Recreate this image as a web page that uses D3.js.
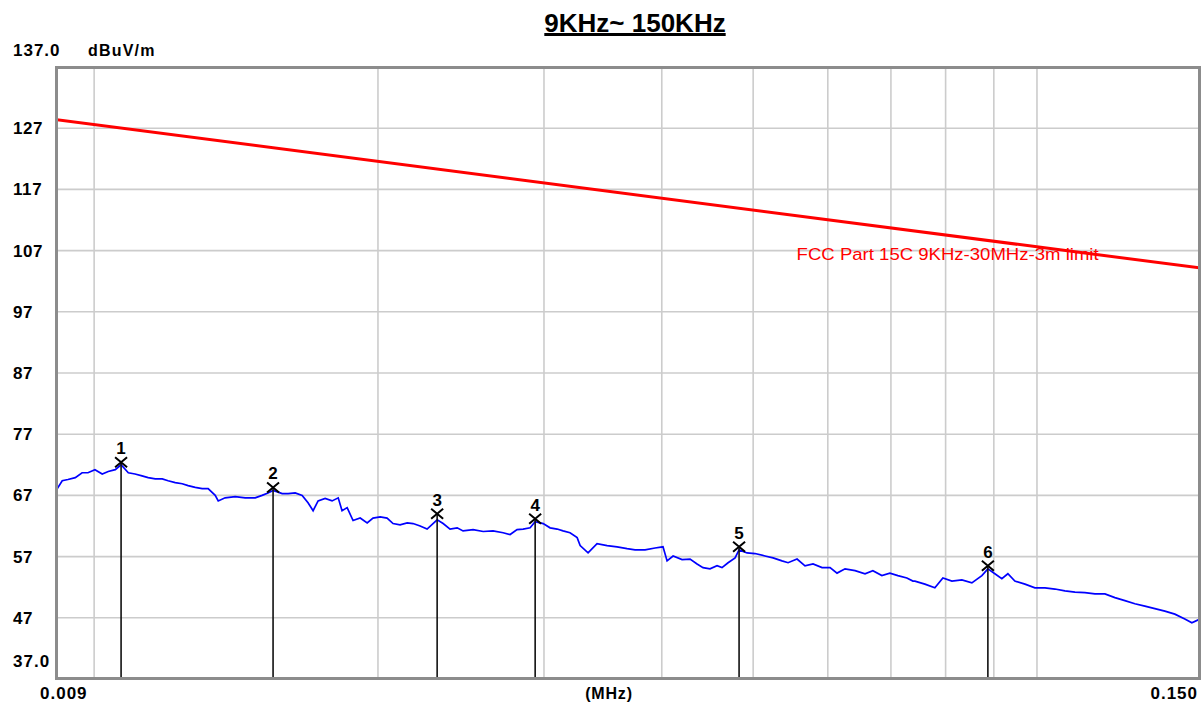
<!DOCTYPE html>
<html>
<head>
<meta charset="utf-8">
<script src="https://cdn.jsdelivr.net/npm/d3@7"></script>
<style>
  body { margin: 0; background: #fff; }
  svg { display: block; font-family: "Liberation Sans", Arial, sans-serif; }
</style>
</head>
<body>
<svg id="chart" width="1204" height="702"></svg>
<script>
// frequency in kHz, level in dBuV/m
const traceKHz = [9.14, 9.25, 9.38, 9.55, 9.71, 9.85, 10.02, 10.20, 10.35, 10.53, 10.68, 10.87, 11.05, 11.24, 11.41, 11.61, 11.81, 11.98, 12.19, 12.40,
  12.58, 12.80, 13.02, 13.21, 13.44, 13.54, 13.77, 14.11, 14.46, 14.82, 15.07, 15.29, 15.48, 15.83, 16.06, 16.34, 16.62, 16.86, 17.07, 17.28,
  17.58, 17.88, 18.15, 18.32, 18.55, 18.82, 19.15, 19.48, 19.76, 20.11, 20.45, 20.75, 21.11, 21.48, 21.79, 22.17, 22.55, 23.11, 23.45, 23.85,
  24.27, 24.62, 25.23, 25.86, 26.49, 27.15, 27.62, 28.09, 28.51, 29.00, 29.36, 29.94, 30.45, 30.98, 31.43, 31.97, 32.53, 32.77, 33.41, 34.15,
  35.00, 35.86, 36.75, 37.47, 38.40, 39.35, 40.12, 40.52, 41.12, 42.03, 42.86, 43.60, 44.24, 45.00, 45.78, 46.34, 47.03, 47.84, 48.31, 49.26,
  50.23, 51.47, 52.49, 53.65, 54.45, 55.66, 56.75, 57.87, 59.16, 60.33, 61.37, 62.58, 64.13, 65.71, 66.98, 68.47, 69.82, 71.20, 72.78, 73.86,
  74.22, 76.05, 77.93, 79.47, 81.24, 83.24, 85.30, 87.41, 88.70, 90.23, 91.78, 93.14, 94.74, 97.11, 99.51, 101.97, 104.49, 107.07, 109.72, 112.43,
  115.20, 118.05, 120.96, 123.95, 127.01, 130.15, 133.36, 136.66, 140.03, 143.49, 145.97, 148.88];
const traceLevel = [68.1, 69.4, 69.6, 69.9, 70.7, 70.7, 71.2, 70.5, 70.9, 71.2, 72.0, 70.7, 70.5, 70.2, 69.9, 69.7, 69.7, 69.4, 69.1, 68.9,
  68.6, 68.3, 68.1, 68.1, 67.0, 66.1, 66.6, 66.8, 66.6, 66.6, 67.0, 67.4, 67.8, 67.3, 67.3, 67.4, 67.0, 65.8, 64.5, 66.1,
  66.5, 66.1, 66.6, 64.5, 65.0, 62.9, 63.3, 62.5, 63.3, 63.5, 63.3, 62.4, 62.2, 62.5, 62.4, 62.0, 61.5, 63.0, 62.4, 61.5,
  61.7, 61.2, 61.4, 61.1, 61.2, 60.9, 60.6, 61.4, 61.5, 61.7, 62.7, 62.4, 61.7, 61.5, 61.2, 60.9, 60.1, 58.8, 57.6, 59.1,
  58.8, 58.6, 58.3, 58.1, 58.1, 58.4, 58.6, 56.3, 57.1, 56.5, 56.6, 55.8, 55.2, 55.0, 55.5, 55.2, 56.0, 56.8, 58.1, 57.6,
  57.5, 57.1, 56.8, 56.3, 56.0, 56.6, 55.5, 55.8, 55.2, 55.2, 54.3, 55.0, 54.7, 54.2, 54.7, 53.9, 54.3, 53.9, 53.5, 53.0,
  53.0, 52.5, 51.9, 53.5, 53.0, 53.2, 52.7, 53.9, 55.0, 54.2, 53.4, 54.2, 53.0, 52.5, 51.9, 51.9, 51.7, 51.4, 51.2, 51.1,
  50.9, 50.9, 50.3, 49.8, 49.3, 48.9, 48.5, 48.1, 47.6, 46.8, 46.2, 46.8];

const limitKHz = [9, 150];
const limitLevel = [128.5, 104.1];
const limitName = "FCC Part 15C 9KHz-30MHz-3m limit";

const markerIds = ["1", "2", "3", "4", "5", "6"];
const markerKHz = [10.68, 15.48, 23.11, 29.36, 48.31, 88.70];
const markerLevel = [72.4, 68.3, 64.0, 63.2, 58.6, 55.5];

const yGridValues = [127, 117, 107, 97, 87, 77, 67, 57, 47];
const yTickLabels = ["127", "117", "107", "97", "87", "77", "67", "57", "47"];
const xGridKHz = [10, 20, 30, 40, 50, 60, 70, 80, 90, 100];
const titleText = "9KHz~ 150KHz";

const svg = d3.select("#chart");
const frame = {left: 57, right: 1199, top: 68, bottom: 678};

const x = d3.scaleLog().domain([9, 150]).range([51, 1203]);
const y = d3.scaleLinear().domain([37, 137]).range([679, 67]);

svg.append("defs").append("clipPath").attr("id", "plotclip")
  .append("rect")
  .attr("x", frame.left).attr("y", frame.top)
  .attr("width", frame.right - frame.left).attr("height", frame.bottom - frame.top);

// grid
const grid = svg.append("g").attr("stroke", "#cccccc").attr("stroke-width", 1.6);
grid.selectAll("line.h").data(yGridValues).enter().append("line")
  .attr("x1", frame.left).attr("x2", frame.right)
  .attr("y1", d => y(d)).attr("y2", d => y(d));
grid.selectAll("line.v").data(xGridKHz).enter().append("line")
  .attr("x1", d => x(d)).attr("x2", d => x(d))
  .attr("y1", frame.top).attr("y2", frame.bottom);

const plot = svg.append("g").attr("clip-path", "url(#plotclip)");

// limit line
const limitData = limitKHz.map((f, i) => [f, limitLevel[i]]);
plot.append("path")
  .datum(limitData)
  .attr("fill", "none")
  .attr("stroke", "#ff0000")
  .attr("stroke-width", 3)
  .attr("d", d3.line().x(d => x(d[0])).y(d => y(d[1])));

// measured trace
const traceData = traceKHz.map((f, i) => [f, traceLevel[i]]);
plot.append("path")
  .datum(traceData)
  .attr("fill", "none")
  .attr("stroke", "#0000ff")
  .attr("stroke-width", 1.7)
  .attr("stroke-linejoin", "miter")
  .attr("d", d3.line().x(d => x(d[0])).y(d => y(d[1])));

// limit label
svg.append("text")
  .attr("x", x(55.6)).attr("y", y(105.5))
  .attr("fill", "#ff0000")
  .attr("font-size", 16)
  .attr("textLength", 302).attr("lengthAdjust", "spacingAndGlyphs")
  .text(limitName);

// markers
const markers = markerIds.map((id, i) => ({id, f: markerKHz[i], v: markerLevel[i]}));
const mg = svg.selectAll("g.marker").data(markers).enter().append("g")
  .attr("class", "marker")
  .attr("transform", d => `translate(${x(d.f)},${y(d.v)})`);
mg.append("line")
  .attr("x1", 0).attr("x2", 0)
  .attr("y1", 0).attr("y2", d => frame.bottom - y(d.v))
  .attr("stroke", "#111").attr("stroke-width", 1.6);
mg.append("path")
  .attr("d", "M-6,-5L6,5M-6,5L6,-5")
  .attr("stroke", "#000").attr("stroke-width", 2).attr("fill", "none");
mg.append("text")
  .attr("text-anchor", "middle")
  .attr("y", -8)
  .attr("font-size", 17).attr("font-weight", "bold")
  .text(d => d.id);

// frame
svg.append("rect")
  .attr("x", frame.left - 0.5).attr("y", frame.top - 0.5)
  .attr("width", frame.right - frame.left + 1).attr("height", frame.bottom - frame.top + 1)
  .attr("fill", "none").attr("stroke", "#8c8c8c").attr("stroke-width", 3);

// y tick labels
const yl = svg.append("g").attr("font-size", 17).attr("font-weight", "bold").attr("fill", "#000");
yl.selectAll("text").data(yGridValues).enter().append("text")
  .attr("x", 13).attr("y", d => y(d) + 6)
  .attr("letter-spacing", 0.6)
  .text((d, i) => yTickLabels[i]);
yl.append("text").attr("x", 13).attr("y", 56).attr("letter-spacing", 1).text("137.0");
yl.append("text").attr("x", 13).attr("y", 667).attr("letter-spacing", 1).text("37.0");
yl.append("text").attr("x", 88).attr("y", 56).attr("font-size", 16).attr("letter-spacing", 1.2).text("dBuV/m");

// x labels
const xl = svg.append("g").attr("font-size", 17).attr("font-weight", "bold").attr("fill", "#000");
xl.append("text").attr("x", 40).attr("y", 699).attr("letter-spacing", 1).text("0.009");
xl.append("text").attr("x", 609).attr("y", 699).attr("text-anchor", "middle").attr("font-size", 16).attr("letter-spacing", 0.8).text("(MHz)");
xl.append("text").attr("x", 1198).attr("y", 699).attr("text-anchor", "end").attr("letter-spacing", 1).text("0.150");

// title
const title = svg.append("text")
  .attr("x", 635).attr("y", 32)
  .attr("text-anchor", "middle")
  .attr("font-size", 26).attr("font-weight", "bold")
  .text(titleText);
const tb = title.node().getBBox();
svg.append("rect")
  .attr("x", tb.x).attr("y", 33)
  .attr("width", tb.width).attr("height", 3)
  .attr("fill", "#000");
</script>
</body>
</html>
